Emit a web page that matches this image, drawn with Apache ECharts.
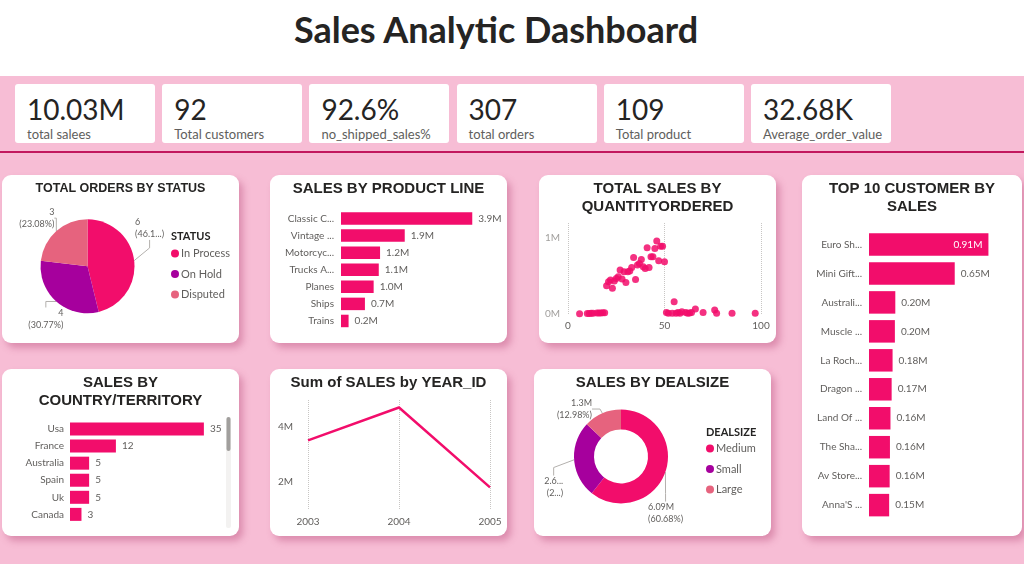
<!DOCTYPE html>
<html>
<head>
<meta charset="utf-8">
<title>Sales Analytic Dashboard</title>
<script src="https://cdn.jsdelivr.net/npm/echarts@6/dist/echarts.min.js"></script>
<style>
  body { margin: 0; width: 1024px; height: 564px; overflow: hidden; position: relative;
         background: #f7bdd5; font-family: Lato, 'Open Sans', sans-serif; }
  #header { position: absolute; left: 0; top: 0; width: 1024px; height: 76px; background: #fff; }
  #header h1 { margin: 0; position: absolute; left: 0; width: 992px; top: 7px; text-align: center;
               font-family: Lato, sans-serif; font-weight: 700; font-size: 36px; line-height: 44px; color: #252423; }
  #rule { position: absolute; left: 0; top: 151px; width: 1024px; height: 2px; background: #c2185e; }
  .kpi { position: absolute; top: 84px; width: 140px; height: 59px; background: #fff; border-radius: 3px; }
  .kpi .v { position: absolute; left: 12px; top: 8px; font-size: 28px; color: #252423; line-height: 34px; }
  .kpi .l { position: absolute; left: 12px; top: 42px; font-size: 13px; color: #605e5c; line-height: 16px; }
  .panel { position: absolute; background: #fff; border-radius: 9px;
           box-shadow: 4px 5px 7px rgba(170, 50, 100, 0.35); }
  .panel > div { width: 100%; height: 100%; }
</style>
</head>
<body>
<div id="header"><h1>Sales Analytic Dashboard</h1></div>
<div id="kpis"></div>
<div id="rule"></div>

<div class="panel" style="left:2px;top:175px;width:237px;height:168px"><div id="c-status"></div></div>
<div class="panel" style="left:270px;top:175px;width:237px;height:168px"><div id="c-product"></div></div>
<div class="panel" style="left:539px;top:175px;width:237px;height:168px"><div id="c-qty"></div></div>
<div class="panel" style="left:802px;top:175px;width:220px;height:361px"><div id="c-customer"></div></div>
<div class="panel" style="left:2px;top:369px;width:237px;height:167px"><div id="c-country"></div></div>
<div class="panel" style="left:270px;top:369px;width:237px;height:167px"><div id="c-year"></div></div>
<div class="panel" style="left:534px;top:369px;width:237px;height:167px"><div id="c-deal"></div></div>

<script>
// ---- data ----
var kpiValues = ['10.03M', '92', '92.6%', '307', '109', '32.68K'];
var kpiLabels = ['total salees', 'Total customers', 'no_shipped_sales%', 'total orders', 'Total product', 'Average_order_value'];

var statusNames = ['In Process', 'On Hold', 'Disputed'];
var statusOrders = [6, 4, 3];

var productLines = ['Classic C...', 'Vintage ...', 'Motorcyc...', 'Trucks A...', 'Planes', 'Ships', 'Trains'];
var productSales = [3919616, 1903151, 1166388, 1127790, 975004, 714437, 226243];

var qtyOrdered = [6, 10, 11, 12, 13, 15, 16, 17, 18, 19,
  20, 21, 22, 23, 24, 25, 26, 27, 28, 29, 30, 31, 32, 33, 34, 35, 36, 37, 38, 39, 40,
  41, 42, 43, 44, 45, 46, 47, 48, 49, 50,
  51, 52, 54, 55, 56, 57, 58, 59, 61, 62, 63, 64, 66, 70, 76, 77, 85, 97];
var qtySales = [4000, 6000, 8000, 9000, 10000, 12000, 13000, 14000, 15000, 16000,
  373000, 425000, 447000, 338000, 434000, 469000, 491000, 579000, 461000, 557000, 417000,
  557000, 566000, 614000, 746000, 456000, 645000, 667000, 719000, 623000, 601000,
  873000, 614000, 754000, 754000, 864000, 961000, 702000, 895000, 895000, 689000,
  20000, 9000, 9000, 162000, 9000, 20000, 9000, 30000, 20000, 9000, 12000, 20000,
  66000, 20000, 53000, 9000, 9000, 9000];

var customers = ['Euro Sh...', 'Mini Gift...', 'Australi...', 'Muscle ...', 'La Roch...',
  'Dragon ...', 'Land Of ...', 'The Sha...', 'Av Store...', "Anna'S ..."];
var customerSales = [912294, 654858, 200995, 197737, 180125, 172990, 164069, 160010, 157808, 153996];

var countries = ['Usa', 'France', 'Australia', 'Spain', 'Uk', 'Canada'];
var countryCustomers = [35, 12, 5, 5, 5, 3];

var years = ['2003', '2004', '2005'];
var yearSales = [3516980, 4724162, 1791487];

var dealSizes = ['Medium', 'Small', 'Large'];
var dealSales = [6087432, 2643077, 1302119];

// ---- look ----
var PINK = '#f20d6b';
var PURPLE = '#a6009d';
var SALMON = '#e6637e';
var GREY = '#605e5c';
var INK = '#252423';
var FONT = 'Lato, "Open Sans", sans-serif';
var TITLE_FONT = '"Liberation Sans", Arial, sans-serif';

// kpi cards
var kpiBox = document.getElementById('kpis');
kpiValues.forEach(function (v, i) {
  var card = document.createElement('div');
  card.className = 'kpi';
  card.style.left = (15 + i * 147.2) + 'px';
  card.innerHTML = '<div class="v">' + v + '</div><div class="l">' + kpiLabels[i] + '</div>';
  kpiBox.appendChild(card);
});

function panelTitle(text, size) {
  return {
    text: text, left: 'center', top: 0,
    textStyle: { fontFamily: TITLE_FONT, fontSize: size || 15, fontWeight: 'bold', color: INK, lineHeight: 18 }
  };
}

function legendTitle(text, left, top) {
  return { text: text, left: left, top: top, textStyle: { fontFamily: FONT, fontSize: 11, fontWeight: 'bold', color: INK } };
}

function sideLegend(left, top) {
  return {
    orient: 'vertical', left: left, top: top, icon: 'circle', itemWidth: 8, itemHeight: 8, itemGap: 9.5,
    textStyle: { color: GREY, fontSize: 11, fontFamily: FONT, padding: [0, 0, 0, -3] }
  };
}

function clip(text, n) { return text.slice(0, n) + '...'; }
function pct(v, arr) {
  var t = arr.reduce(function (a, b) { return a + b; }, 0);
  return (v / t * 100).toFixed(2) + '%';
}
function toM(v, d) { return parseFloat((v / 1e6).toFixed(d)) + 'M'; }

// nudges outside pie labels the way the dashboard placed them: [dx, dy, align]
function nudge(shifts) {
  return function (p) {
    var s = shifts[p.dataIndex];
    var x = s[2] === 'right' ? p.labelRect.x + p.labelRect.width : p.labelRect.x;
    return { x: x + s[0], y: p.labelRect.y + s[1], align: s[2], verticalAlign: 'top' };
  };
}

function hbar(cats, vals, opts) {
  return {
    grid: opts.grid,
    xAxis: { type: 'value', min: 0, max: opts.max, show: false },
    yAxis: {
      type: 'category', data: cats, inverse: true,
      axisLine: { show: false }, axisTick: { show: false },
      axisLabel: { color: GREY, fontSize: 10, fontFamily: FONT, margin: opts.margin || 6 }
    },
    series: [{
      type: 'bar', barWidth: opts.barWidth,
      data: vals.map(function (v, i) {
        return opts.inside && i === 0
          ? { value: v, label: { position: 'insideRight', color: '#fff', distance: 6 } }
          : v;
      }),
      itemStyle: { color: PINK },
      label: {
        show: true, position: 'right', distance: 6, color: GREY, fontSize: 10, fontFamily: FONT,
        formatter: function (p) { return opts.fmt(p.value); }
      }
    }]
  };
}

// total orders by status
var statusChart = echarts.init(document.getElementById('c-status'));
statusChart.setOption({
  title: [panelTitle('TOTAL ORDERS BY STATUS', 12.5), legendTitle('STATUS', 164, 51)],
  legend: sideLegend(164, 68),
  series: [{
    type: 'pie', center: [85.5, 91.3], radius: [0, 47], startAngle: 90,
    data: statusNames.map(function (n, i) {
      return { name: n, value: statusOrders[i], itemStyle: { color: [PINK, PURPLE, SALMON][i] } };
    }),
    label: {
      color: GREY, fontSize: 9, lineHeight: 12, fontFamily: FONT,
      formatter: function (p) {
        var pc = pct(p.value, statusOrders);
        if (p.dataIndex === 0) pc = clip(pc, 4);
        return p.value + '\n(' + pc + ')';
      }
    },
    labelLine: { length: 6, length2: 8, lineStyle: { color: '#b3b0ad', width: 1 } },
    labelLayout: nudge([[-18, -32, 'left'], [24, 13.5, 'right'], [15, -8.5, 'right']])
  }]
});

// sales by product line
var productChart = echarts.init(document.getElementById('c-product'));
productChart.setOption(Object.assign({ title: panelTitle('SALES BY PRODUCT LINE') },
  hbar(productLines, productSales, {
    grid: { left: 71, width: 150.7, top: 35, height: 119.5 }, max: 4.5e6, barWidth: 12.5, margin: 7,
    fmt: function (v) { return (v / 1e6).toFixed(1) + 'M'; }
  })));

// total sales by quantity ordered
var qtyChart = echarts.init(document.getElementById('c-qty'));
qtyChart.setOption({
  title: panelTitle('TOTAL SALES BY\nQUANTITYORDERED'),
  grid: { left: 29, right: 15, top: 48, bottom: 29 },
  xAxis: {
    type: 'value', min: 0, max: 100, interval: 50,
    axisLine: { show: false }, axisTick: { show: false },
    splitLine: { show: true, lineStyle: { type: 'dotted', color: '#c8c6c4' } },
    axisLabel: { color: GREY, fontSize: 10, fontFamily: FONT, margin: 7 }
  },
  yAxis: {
    type: 'value', min: 0, max: 1.2e6, interval: 1e6,
    axisLine: { show: false }, axisTick: { show: false }, splitLine: { show: false },
    axisLabel: { color: '#a19f9d', fontSize: 10, fontFamily: FONT, margin: 8, showMaxLabel: false,
                 formatter: function (v) { return v / 1e6 + 'M'; } }
  },
  series: [{
    type: 'scatter', symbolSize: 7, clip: false,
    data: qtyOrdered.map(function (q, i) { return [q, qtySales[i]]; }),
    itemStyle: { color: PINK, opacity: 0.85 }
  }]
});

// top 10 customer by sales
var customerChart = echarts.init(document.getElementById('c-customer'));
customerChart.setOption(Object.assign({ title: panelTitle('TOP 10 CUSTOMER BY\nSALES') },
  hbar(customers, customerSales, {
    grid: { left: 67, width: 144, top: 55, height: 289.6 }, max: 1.1e6, barWidth: 22.5, margin: 7, inside: true,
    fmt: function (v) { return (v / 1e6).toFixed(2) + 'M'; }
  })));

// sales by country/territory
var countryChart = echarts.init(document.getElementById('c-country'));
var countryOpt = hbar(countries, countryCustomers, {
  grid: { left: 68, width: 153, top: 51.5, height: 102.4 }, max: 40, barWidth: 13, margin: 6,
  fmt: function (v) { return v; }
});
countryOpt.title = panelTitle('SALES BY\nCOUNTRY/TERRITORY');
countryOpt.graphic = [
  { type: 'rect', shape: { x: 224, y: 48, width: 5, height: 111, r: 2 }, style: { fill: '#f3f2f1' } },
  { type: 'rect', shape: { x: 224.5, y: 48, width: 4, height: 34, r: 2 }, style: { fill: '#a19f9d' } }
];
countryChart.setOption(countryOpt);

// sum of sales by year
var yearChart = echarts.init(document.getElementById('c-year'));
yearChart.setOption({
  title: panelTitle('Sum of SALES by YEAR_ID'),
  grid: { left: 38, right: 17, top: 31, bottom: 27 },
  xAxis: {
    type: 'category', data: years, boundaryGap: false,
    axisLine: { show: false }, axisTick: { show: false },
    splitLine: { show: true, lineStyle: { type: 'dotted', color: '#c8c6c4' } },
    axisLabel: { color: GREY, fontSize: 10, fontFamily: FONT, margin: 8 }
  },
  yAxis: {
    type: 'value', min: 1e6, max: 5e6, interval: 1e6,
    axisLine: { show: false }, axisTick: { show: false }, splitLine: { show: false },
    axisLabel: { color: GREY, fontSize: 10, fontFamily: FONT, margin: 15,
                 formatter: function (v) { return v % 2e6 === 0 ? v / 1e6 + 'M' : ''; } }
  },
  series: [{
    type: 'line', data: yearSales, symbol: 'none',
    lineStyle: { color: PINK, width: 2.5 }
  }]
});

// sales by dealsize
var dealChart = echarts.init(document.getElementById('c-deal'));
dealChart.setOption({
  title: [panelTitle('SALES BY DEALSIZE'), legendTitle('DEALSIZE', 167, 53)],
  legend: sideLegend(167, 69),
  series: [{
    type: 'pie', center: [87, 87.4], radius: [27, 47], startAngle: 90,
    data: dealSizes.map(function (n, i) {
      return { name: n, value: dealSales[i], itemStyle: { color: [PINK, PURPLE, SALMON][i] } };
    }),
    label: {
      color: GREY, fontSize: 9, lineHeight: 12, fontFamily: FONT,
      formatter: function (p) {
        var v = toM(p.value, 2), pc = pct(p.value, dealSales);
        if (p.dataIndex === 1) { v = clip(v, 3); pc = clip(pc, 1); }
        return v + '\n(' + pc + ')';
      }
    },
    labelLine: { length: 6, length2: 8, lineStyle: { color: '#b3b0ad', width: 1 } },
    labelLayout: nudge([[-36, 39.7, 'left'], [8, 27.3, 'right'], [5, 1.3, 'right']])
  }]
});
</script>
</body>
</html>
